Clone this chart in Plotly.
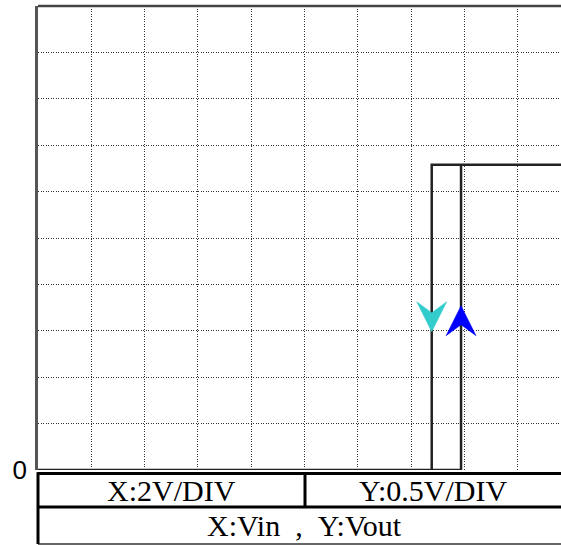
import plotly.graph_objects as go

# ---------------- data ----------------
vin_start = 0.0      # V  (x axis, 2 V/div)
vin_end = 19.62      # V  (right edge of the visible screen)
vin_fall = 14.77     # V  high -> low threshold
vin_rise = 15.87     # V  low -> high threshold
vout_low = 0.0       # V  (y axis, 0.5 V/div)
vout_high = 3.29     # V

loop_x = [vin_start, vin_rise, vin_rise, vin_end, vin_fall, vin_fall]
loop_y = [vout_low, vout_low, vout_high, vout_high, vout_high, vout_low]

arrow_x = [vin_fall, vin_rise]
arrow_tip_y = [1.49, 1.77]
arrow_dir = ["down", "up"]
arrow_colors = ["#33CCCC", "#0000FF"]

x_ticks = [0, 2, 4, 6, 8, 10, 12, 14, 16, 18]
y_ticks = [0, 0.5, 1.0, 1.5, 2.0, 2.5, 3.0, 3.5, 4.0, 4.5, 5.0]
y_tick_labels = ["0", "", "", "", "", "", "", "", "", "", ""]

table_row1 = ["X:2V/DIV", "Y:0.5V/DIV"]
table_row2 = "X:Vin\u00a0\u00a0,\u00a0\u00a0Y:Vout"

# ---------------- geometry / style ----------------
W, H = 561, 545
ML, MR, MT, MB = 38, 0, 6, 75
plot_w = W - ML - MR
plot_h = H - MT - MB
y_min, y_max = 0.0, 5.0
px_x = plot_w / (vin_end - vin_start)
px_y = plot_h / (y_max - y_min)

def paper_y(pix):
    return (H - MB - pix) / plot_h

def paper_x(pix):
    return (pix - ML) / plot_w

fig = go.Figure()

fig.add_trace(go.Scatter(
    x=loop_x, y=loop_y, mode="lines",
    line=dict(color="#222222", width=2.5),
    hoverinfo="skip", showlegend=False,
))

# arrowheads (barbed), sizes in pixels converted to data units
half_w, length, notch = 15.0, 30.0, 19.0
for ax_, ty, d, c in zip(arrow_x, arrow_tip_y, arrow_dir, arrow_colors):
    s = 1 if d == "down" else -1
    hw = half_w / px_x
    L = s * length / px_y
    N = s * notch / px_y
    xs = [ax_, ax_ + hw, ax_, ax_ - hw, ax_]
    ys = [ty, ty + L, ty + N, ty + L, ty]
    fig.add_trace(go.Scatter(
        x=xs, y=ys, mode="lines", fill="toself", fillcolor=c,
        line=dict(color=c, width=0.5), hoverinfo="skip", showlegend=False,
    ))

grid_style = dict(showgrid=True, gridcolor="#333333", gridwidth=1, griddash="1px,1.5px")

fig.update_xaxes(
    range=[vin_start, vin_end], tickmode="array", tickvals=x_ticks,
    showticklabels=False, ticks="", zeroline=False, showline=False,
    fixedrange=True, **grid_style,
)
fig.update_yaxes(
    range=[y_min, y_max], tickmode="array", tickvals=y_ticks, ticktext=y_tick_labels,
    ticks="", zeroline=False, showline=True, linecolor="#555555", linewidth=2.5,
    tickfont=dict(family="Liberation Sans, Arial", size=26, color="#000000"),
    ticklabelstandoff=3, fixedrange=True, **grid_style,
)

top_t = paper_y(473.5)
mid_t = paper_y(507.0)
bot_t = paper_y(544.0)
col_x = paper_x(305.0)

shapes = [
    # top border of screen
    dict(type="line", xref="paper", yref="paper", x0=0, x1=1, y0=1, y1=1,
         line=dict(color="#444444", width=2.5)),
    # table
    dict(type="line", xref="paper", yref="paper", x0=0, x1=1, y0=top_t, y1=top_t,
         line=dict(color="#000000", width=3)),
    dict(type="line", xref="paper", yref="paper", x0=0, x1=1, y0=mid_t, y1=mid_t,
         line=dict(color="#000000", width=3)),
    dict(type="line", xref="paper", yref="paper", x0=0, x1=1, y0=bot_t, y1=bot_t,
         line=dict(color="#666666", width=2)),
    dict(type="line", xref="paper", yref="paper", x0=0, x1=0, y0=top_t + 0.003, y1=bot_t,
         line=dict(color="#000000", width=3)),
    dict(type="line", xref="paper", yref="paper", x0=col_x, x1=col_x, y0=top_t, y1=mid_t,
         line=dict(color="#000000", width=3)),
]

tfont = dict(family="Liberation Serif, Times New Roman", size=30, color="#000000")
annotations = [
    dict(text=table_row1[0], xref="paper", yref="paper", x=col_x / 2, y=(top_t + mid_t) / 2,
         xanchor="center", yanchor="middle", showarrow=False, font=tfont),
    dict(text=table_row1[1], xref="paper", yref="paper", x=(col_x + 1) / 2, y=(top_t + mid_t) / 2,
         xanchor="center", yanchor="middle", showarrow=False, font=tfont),
    dict(text=table_row2, xref="paper", yref="paper", x=paper_x(304), y=(mid_t + bot_t) / 2,
         xanchor="center", yanchor="middle", showarrow=False, font=tfont),
]

fig.update_layout(
    width=W, height=H,
    margin=dict(l=ML, r=MR, t=MT, b=MB, pad=0),
    paper_bgcolor="#FFFFFF", plot_bgcolor="#FFFFFF",
    shapes=shapes, annotations=annotations, showlegend=False,
)

fig.write_html(
    "out.html",
    config={"displayModeBar": False},
    post_script="document.body.style.margin='0';document.body.style.overflow='hidden';",
)
